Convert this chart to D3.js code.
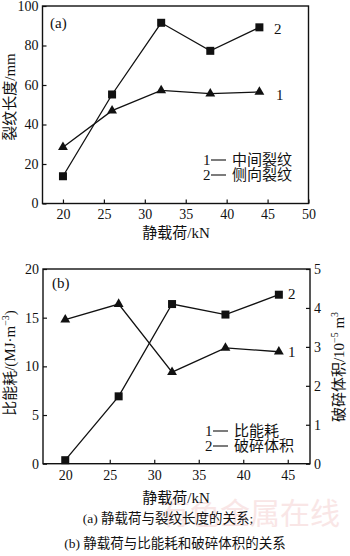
<!DOCTYPE html>
<html>
<head>
<meta charset="utf-8">
<script src="https://cdn.jsdelivr.net/npm/d3@7"></script>
<style>
  body { margin: 0; background: #fff; }
  svg text { font-family: "Liberation Serif", "Noto Sans CJK SC", serif; fill: #111; }
</style>
</head>
<body>
<div id="chart"></div>
<script>
// static load, kN
const loads = [20, 26, 32, 38, 44];

// (a) crack length, mm
const middleCrack = [28.5, 47, 57.3, 55.6, 56.5];   // 1
const sideCrack = [13.8, 55.2, 91.5, 77.3, 89.2];   // 2

// (b) specific energy (MJ/m3) and broken volume (1e-5 m3)
const specificEnergy = [14.8, 16.4, 9.4, 11.9, 11.5]; // 1
const brokenVolume = [0.09, 1.73, 4.1, 3.83, 4.34];   // 2

const xTicksA = [20, 25, 30, 35, 40, 45, 50];
const yTicksA = [0, 20, 40, 60, 80, 100];
const xTicksB = [20, 25, 30, 35, 40, 45];
const yTicksB = [0, 5, 10, 15, 20];
const y2TicksB = [0, 1, 2, 3, 4, 5];

const width = 350, height = 556;

const svg = d3.select("#chart")
    .append("svg")
    .attr("width", width)
    .attr("height", height);

// faint watermark
svg.append("text")
    .attr("x", 250).attr("y", 524)
    .attr("text-anchor", "middle")
    .style("font-family", "Noto Sans CJK SC")
    .style("font-size", "30px")
    .style("fill", "#f9e6e6")
    .text("有色金属在线");

const tri = d3.symbol().type(d3.symbolTriangle).size(42);

function frame(g, x0, x1, y0, y1) {
    g.append("rect")
        .attr("x", x0).attr("y", y1)
        .attr("width", x1 - x0).attr("height", y0 - y1)
        .attr("fill", "none")
        .attr("stroke", "#111")
        .attr("stroke-width", 1.4);
}

function styleAxis(g) {
    g.select(".domain").remove();
    g.selectAll(".tick line").attr("stroke", "#111").attr("stroke-width", 1.2);
    g.selectAll(".tick text").style("font-size", "14px").attr("fill", "#111");
}

function drawSeries(g, x, y, vals, marker) {
    const line = d3.line()
        .x((d, i) => x(loads[i]))
        .y(d => y(d));
    g.append("path")
        .datum(vals)
        .attr("d", line)
        .attr("fill", "none")
        .attr("stroke", "#111")
        .attr("stroke-width", 1.3);
    if (marker === "square") {
        g.selectAll(null)
            .data(vals)
            .join("rect")
            .attr("x", (d, i) => x(loads[i]) - 4)
            .attr("y", d => y(d) - 4)
            .attr("width", 8)
            .attr("height", 8)
            .attr("fill", "#111");
    } else {
        g.selectAll(null)
            .data(vals)
            .join("path")
            .attr("d", tri)
            .attr("transform", (d, i) => `translate(${x(loads[i])}, ${y(d)})`)
            .attr("fill", "#111");
    }
}

// legend line: "n— label", dash drawn as a line
function legendItem(g, x, y, num, label) {
    g.append("text").attr("x", x).attr("y", y).style("font-size", "15px").text(num);
    g.append("line")
        .attr("x1", x + 8).attr("x2", x + 23)
        .attr("y1", y - 5).attr("y2", y - 5)
        .attr("stroke", "#111").attr("stroke-width", 1.1);
    g.append("text").attr("x", x + 29).attr("y", y).style("font-size", "15px").text(label);
}

// ---------- chart (a) ----------
const ga = svg.append("g");
const xa = d3.scaleLinear().domain([17.5, 50]).range([42.5, 308.5]);
const ya = d3.scaleLinear().domain([0, 100]).range([203.5, 6]);

ga.append("g")
    .attr("transform", "translate(0,203.5)")
    .call(d3.axisBottom(xa).tickValues(xTicksA).tickFormat(d3.format("d")).tickSize(-4).tickSizeOuter(0).tickPadding(6))
    .call(styleAxis);
ga.append("g")
    .attr("transform", "translate(42.5,0)")
    .call(d3.axisLeft(ya).tickValues(yTicksA).tickFormat(d3.format("d")).tickSize(-4).tickSizeOuter(0).tickPadding(4))
    .call(styleAxis);
frame(ga, 42.5, 308.5, 203.5, 6);

drawSeries(ga, xa, ya, middleCrack, "triangle");
drawSeries(ga, xa, ya, sideCrack, "square");

ga.append("text").attr("x", 50).attr("y", 28).style("font-size", "15px").text("(a)");
ga.append("text").attr("x", 274).attr("y", 34).style("font-size", "15px").text("2");
ga.append("text").attr("x", 276).attr("y", 100).style("font-size", "15px").text("1");
legendItem(ga, 203, 165, "1", "中间裂纹");
legendItem(ga, 203, 180, "2", "侧向裂纹");
ga.append("text")
    .attr("x", 176).attr("y", 238)
    .attr("text-anchor", "middle")
    .style("font-size", "15px")
    .text("静载荷/kN");
ga.append("text")
    .attr("transform", "translate(15,97) rotate(-90)")
    .attr("text-anchor", "middle")
    .style("font-size", "15px")
    .text("裂纹长度/mm");

// ---------- chart (b) ----------
const gb = svg.append("g");
const xb = d3.scaleLinear().domain([17.5, 47.5]).range([43, 310]);
const yb = d3.scaleLinear().domain([0, 20]).range([463.7, 269]);
const yb2 = d3.scaleLinear().domain([0, 5]).range([463.7, 269]);

gb.append("g")
    .attr("transform", "translate(0,463.7)")
    .call(d3.axisBottom(xb).tickValues(xTicksB).tickFormat(d3.format("d")).tickSize(-4).tickSizeOuter(0).tickPadding(6))
    .call(styleAxis);
gb.append("g")
    .attr("transform", "translate(43,0)")
    .call(d3.axisLeft(yb).tickValues(yTicksB).tickFormat(d3.format("d")).tickSize(-4).tickSizeOuter(0).tickPadding(4))
    .call(styleAxis);
gb.append("g")
    .attr("transform", "translate(310,0)")
    .call(d3.axisRight(yb2).tickValues(y2TicksB).tickFormat(d3.format("d")).tickSize(-4).tickSizeOuter(0).tickPadding(4))
    .call(styleAxis);
frame(gb, 43, 310, 463.7, 269);

drawSeries(gb, xb, yb, specificEnergy, "triangle");
drawSeries(gb, xb, yb2, brokenVolume, "square");

gb.append("text").attr("x", 52).attr("y", 288).style("font-size", "15px").text("(b)");
gb.append("text").attr("x", 288).attr("y", 299).style("font-size", "15px").text("2");
gb.append("text").attr("x", 288).attr("y", 357).style("font-size", "15px").text("1");
legendItem(gb, 205, 436, "1", "比能耗");
legendItem(gb, 205, 451, "2", "破碎体积");
gb.append("text")
    .attr("x", 176).attr("y", 503)
    .attr("text-anchor", "middle")
    .style("font-size", "15px")
    .text("静载荷/kN");

const lt = gb.append("text")
    .attr("transform", "translate(15,363) rotate(-90)")
    .attr("text-anchor", "middle")
    .style("font-size", "15px");
lt.append("tspan").text("比能耗/(MJ·m");
lt.append("tspan").attr("dy", -6).style("font-size", "10px").text("−3");
lt.append("tspan").attr("dy", 6).text(")");

const rt = gb.append("text")
    .attr("transform", "translate(344,367) rotate(-90)")
    .attr("text-anchor", "middle")
    .style("font-size", "15px");
rt.append("tspan").text("破碎体积/10");
rt.append("tspan").attr("dy", -6).style("font-size", "10px").text("−5");
rt.append("tspan").attr("dy", 6).text(" m");
rt.append("tspan").attr("dy", -6).style("font-size", "10px").text("3");

// captions
svg.append("text")
    .attr("x", 168).attr("y", 523)
    .attr("text-anchor", "middle")
    .style("font-size", "13.5px")
    .text("(a)  静载荷与裂纹长度的关系;");
svg.append("text")
    .attr("x", 175).attr("y", 548)
    .attr("text-anchor", "middle")
    .style("font-size", "13.5px")
    .text("(b)  静载荷与比能耗和破碎体积的关系");
</script>
</body>
</html>
